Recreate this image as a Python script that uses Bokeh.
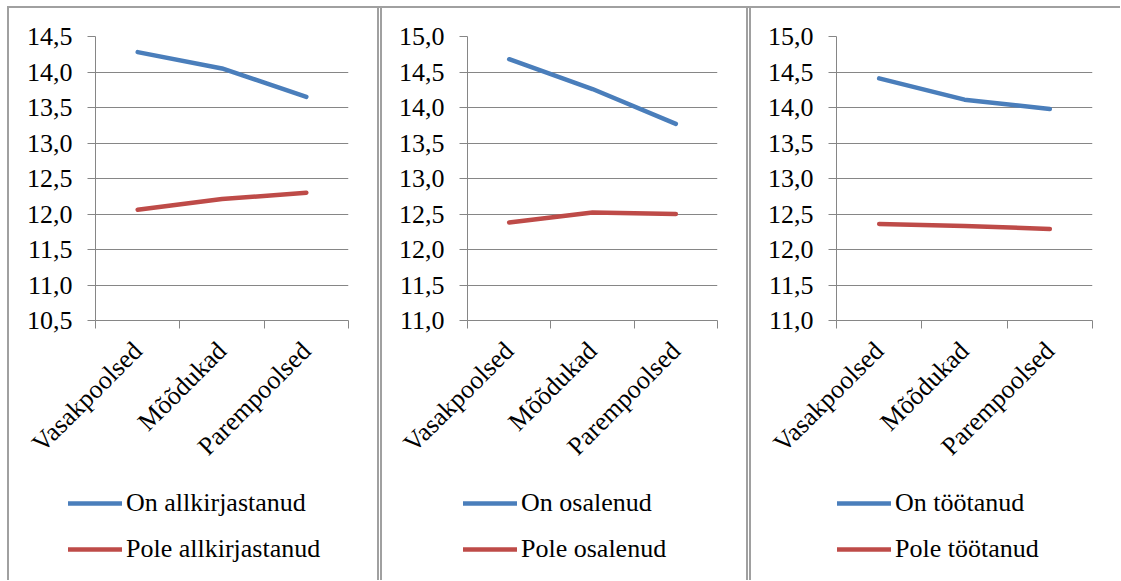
import math
from bokeh.plotting import figure
from bokeh.models import (Range1d, FixedTicker, SingleIntervalTicker, CustomJSTickFormatter,
                          Legend, LegendItem, Spacer)
from bokeh.layouts import row, column
from bokeh.embed import file_html
from bokeh.resources import INLINE

# ---- data ----
categories = ["Vasakpoolsed", "Mõõdukad", "Parempoolsed"]

allkiri_on = [14.28, 14.05, 13.65]
allkiri_pole = [12.06, 12.21, 12.30]

osal_on = [14.68, 14.26, 13.77]
osal_pole = [12.38, 12.52, 12.50]

tootanud_on = [14.41, 14.11, 13.98]
tootanud_pole = [12.36, 12.33, 12.29]

labels_on = ["On allkirjastanud", "On osalenud", "On töötanud"]
labels_pole = ["Pole allkirjastanud", "Pole osalenud", "Pole töötanud"]

y_ranges = [(10.5, 14.5), (11.0, 15.0), (11.0, 15.0)]

BLUE = "#4a7ebb"
RED = "#be4b48"
GRID = "#868686"
BORDER = "#a0a0a0"
FONT = "Liberation Serif"
FS = "26px"
H = 572          # total panel height
CH = 478         # chart figure height
LH = H - CH      # legend figure height
TOP = 28
FRAME_H = 284
LW = 4.5
NAN = float("nan")


def make_panel(width, left, frame_w, y_rng, on_vals, pole_vals, on_label, pole_label, legend_x):
    p = figure(width=width, height=CH, output_backend="svg", toolbar_location=None,
               x_range=Range1d(0, len(categories)), y_range=Range1d(*y_rng),
               min_border_left=left, min_border_right=width - left - frame_w,
               min_border_top=TOP, min_border_bottom=CH - TOP - FRAME_H)
    p.frame_align = False
    p.outline_line_color = None
    p.background_fill_color = "white"
    p.border_fill_color = "white"

    xs = [i + 0.5 for i in range(len(categories))]
    p.line(xs, on_vals, line_color=BLUE, line_width=LW, line_cap="round", line_join="round")
    p.line(xs, pole_vals, line_color=RED, line_width=LW, line_cap="round", line_join="round")

    # x axis
    xa = p.xaxis[0]
    xa.ticker = FixedTicker(ticks=xs, minor_ticks=list(range(len(categories) + 1)))
    xa.formatter = CustomJSTickFormatter(args=dict(labels=categories), code="""
        const i = Math.floor(tick);
        return (i >= 0 && i < labels.length) ? labels[i] : '';
    """)
    xa.major_label_orientation = math.pi / 4
    xa.major_tick_line_color = None
    xa.major_tick_out = 0
    xa.minor_tick_out = 8
    xa.minor_tick_in = 0
    xa.minor_tick_line_color = GRID
    xa.axis_line_color = GRID
    xa.major_label_text_font = FONT
    xa.major_label_text_font_size = FS
    xa.major_label_text_color = "black"
    xa.major_label_standoff = 18

    # y axis
    ya = p.yaxis[0]
    ya.ticker = SingleIntervalTicker(interval=0.5, num_minor_ticks=0)
    ya.formatter = CustomJSTickFormatter(code="return tick.toFixed(1).replace('.', ',');")
    ya.major_tick_out = 8
    ya.major_tick_in = 0
    ya.minor_tick_line_color = None
    ya.major_tick_line_color = GRID
    ya.axis_line_color = GRID
    ya.major_label_text_font = FONT
    ya.major_label_text_font_size = FS
    ya.major_label_text_color = "black"
    ya.major_label_standoff = 15

    p.xgrid.visible = False
    p.ygrid.ticker = SingleIntervalTicker(interval=0.5, num_minor_ticks=0)
    p.ygrid.grid_line_color = GRID
    p.ygrid.grid_line_width = 1

    # legend figure (legend only; its key renderers draw nothing in the frame)
    lf = figure(width=width, height=LH, output_backend="svg", toolbar_location=None,
                x_range=Range1d(0, 1), y_range=Range1d(0, 1),
                x_axis_location=None, y_axis_location=None,
                min_border=0, min_border_left=0, min_border_right=0,
                min_border_top=0, min_border_bottom=0)
    lf.frame_align = False
    lf.outline_line_color = None
    lf.grid.visible = False
    lf.background_fill_color = "white"
    lf.border_fill_color = "white"
    k1 = lf.line([NAN], [NAN], line_color=BLUE, line_width=LW, line_cap="round")
    k2 = lf.line([NAN], [NAN], line_color=RED, line_width=LW, line_cap="round")
    legend = Legend(items=[LegendItem(label=on_label, renderers=[k1]),
                           LegendItem(label=pole_label, renderers=[k2])],
                    location=(legend_x, 16), orientation="vertical",
                    border_line_color=None, background_fill_alpha=0,
                    glyph_width=54, glyph_height=30, label_standoff=4,
                    label_text_font=FONT, label_text_font_size=FS, label_text_color="black",
                    spacing=16, padding=0, margin=0)
    lf.add_layout(legend, "center")
    return column(p, lf, spacing=0)


c1 = make_panel(368, 86, 253, y_ranges[0], allkiri_on, allkiri_pole, labels_on[0], labels_pole[0], 59)
c2 = make_panel(364, 85, 250, y_ranges[1], osal_on, osal_pole, labels_on[1], labels_pole[1], 81)
c3 = make_panel(369, 85, 256, y_ranges[2], tootanud_on, tootanud_pole, labels_on[2], labels_pole[2], 86)

sep_style = {"background": f"linear-gradient(to right, {BORDER} 0px, {BORDER} 2px, #ffffff 2px, #ffffff 3px, {BORDER} 3px, {BORDER} 5px)"}
left_border = Spacer(width=9, height=H,
                     styles={"background": f"linear-gradient(to right, #ffffff 0px, #ffffff 7px, {BORDER} 7px, {BORDER} 9px)"})
sep1 = Spacer(width=5, height=H, styles=sep_style)
sep2 = Spacer(width=5, height=H, styles=sep_style)
top_border = Spacer(width=1120, height=8,
                    styles={"background": f"linear-gradient(to bottom, #ffffff 0px, #ffffff 6px, {BORDER} 6px, {BORDER} 8px) 7px 0 / 1113px 8px no-repeat"})

layout = column(top_border, row(left_border, c1, sep1, c2, sep2, c3, spacing=0), spacing=0)

with open("out.html", "w") as f:
    f.write(file_html(layout, INLINE))
